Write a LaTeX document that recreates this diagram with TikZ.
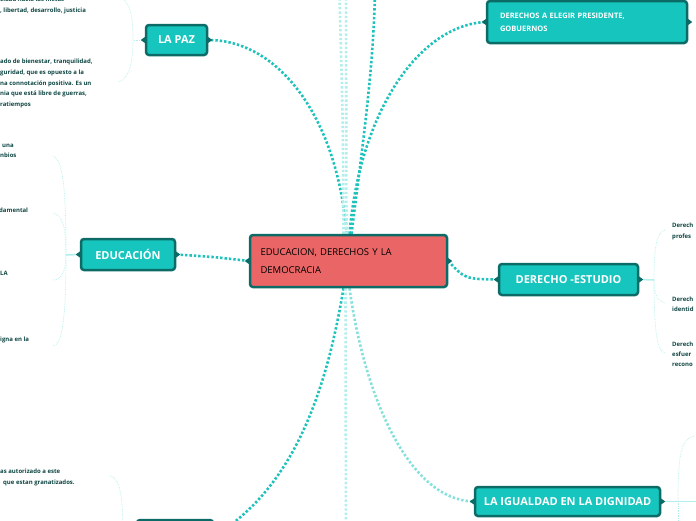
\documentclass[tikz,border=0pt]{standalone}
\usepackage{fontspec}
\setmainfont{Open Sans}
\usetikzlibrary{calc,backgrounds}

\definecolor{topicfill}{HTML}{16C5BE}
\definecolor{topicedge}{HTML}{0C6B66}
\definecolor{centrefill}{HTML}{E96566}
\definecolor{linkteal}{HTML}{1EC2BC}
\definecolor{linkmid}{HTML}{86E0DC}
\definecolor{linklight}{HTML}{B2EEEB}
\definecolor{leaftext}{HTML}{0E4643}

% little brace tips on both sides of a box
\newcommand{\sidetips}[1]{%
  \fill[topicedge] ($(#1.west)+(1.5,-4)$) -- ($(#1.west)+(-4,0)$) -- ($(#1.west)+(1.5,4)$) -- cycle;
  \fill[topicedge] ($(#1.east)+(-1.5,-4)$) -- ($(#1.east)+(4,0)$) -- ($(#1.east)+(-1.5,4)$) -- cycle;}

\begin{document}
\begin{tikzpicture}[x=1pt,y=-1pt,
  topic/.style={draw=topicedge, fill=topicfill, line width=2.5pt, rounded corners=3pt,
    text=white, inner sep=0pt, font=\bfseries\fontsize{11}{13}\selectfont},
  leaf/.style={anchor=west, align=left, inner sep=0pt, text=leaftext,
    font=\bfseries\fontsize{6}{10.7}\selectfont},
  link/.style={draw=linkteal, line width=2.6pt, dash pattern=on 2.4pt off 2pt},
  faint/.style={link, draw=linklight},
  twig/.style={draw=linklight, line width=0.7pt, densely dotted}]
\useasboundingbox (0,0) rectangle (696,520);
\clip (0,0) rectangle (696,520);

% main topics
\node[topic, fill=centrefill, text=black, minimum width=197pt, minimum height=52pt,
  text width=176pt, align=left, font=\fontsize{9.5}{18}\selectfont]
  (democracia) at (348.5,261) {EDUCACION, DERECHOS Y LA\\DEMOCRACIA};
\node[topic, minimum width=61pt, minimum height=30pt] (paz) at (176.5,40) {LA PAZ};
\node[topic, minimum width=94pt, minimum height=31pt] (educacion) at (128,254.5) {EDUCACIÓN};
\node[topic, minimum width=200pt, minimum height=42pt, text width=174pt, align=left,
  font=\bfseries\fontsize{7.5}{13}\selectfont]
  (elegir) at (587,22) {DERECHOS A ELEGIR PRESIDENTE,\\GOBUERNOS};
\node[topic, minimum width=139pt, minimum height=31pt] (estudio) at (568.5,279.5) {DERECHO -ESTUDIO};
\node[topic, minimum width=185pt, minimum height=29pt] (igualdad) at (567.5,501.5) {LA IGUALDAD EN LA DIGNIDAD};
\node[topic, minimum width=76pt, minimum height=32pt] (abajo) at (175,536) {};

\foreach \n in {democracia,paz,educacion,elegir,estudio,igualdad}
  \sidetips{\n};

% leaves
\node[leaf] (paz1) at (0,5.5) {cidad hacia las metas\\, libertad, desarrollo, justicia};
\node[leaf] (paz2) at (0,83.5) {ado de bienestar, tranquilidad,\\guridad, que es opuesto a la\\na connotación positiva. Es un\\nia que está libre de guerras,\\ratiempos};
\node[leaf] (edu1) at (0,151) {\hspace{2pt}una\\nbios};
\node[leaf] (edu2) at (-1,210) {damental};
\node[leaf] (edu3) at (0,273) {LA};
\node[leaf] (edu4) at (0,340) {igna en la};
\node[leaf, font=\bfseries\fontsize{6}{10.5}\selectfont] (est1) at (672,231.5) {Derech\\profes};
\node[leaf, font=\bfseries\fontsize{6}{10.5}\selectfont] (est2) at (672,304) {Derech\\identid};
\node[leaf, font=\bfseries\fontsize{6}{10}\selectfont] (est3) at (672,354) {Derech\\esfuer\\recono};
\node[leaf] (baj1) at (0,477.5) {as autorizado a este\\\hspace{3pt}que estan granatizados.};

% junctions and free ends
\coordinate (pazj) at (133,40);
\coordinate (eduj) at (66,255);
\coordinate (estj) at (654,280);
\coordinate (iguj) at (678,501);
\coordinate (arriba1) at (339,-20);
\coordinate (arriba2) at (346,-20);
\coordinate (arriba3) at (375,-20);
\coordinate (abajo2) at (346,540);

\begin{scope}[on background layer]
\draw[link] ($(democracia.north)+(-2,0)$) .. controls (338,120) and (280,40) .. (paz.east);
\draw[link] ($(democracia.north)+(1,0)$) .. controls (360,110) and (420,25) .. (elegir.west);
\draw[link] ($(democracia.north)+(3,0)$) .. controls (362,150) and (375,60) .. (arriba3);
\draw[faint] ($(democracia.north)+(-5,0)$) .. controls (343,120) .. (arriba1);
\draw[faint] ($(democracia.north)+(-2,0)$) -- (arriba2);
\draw[link] (democracia.west) .. controls (215,257) .. (educacion.east);
\draw[link] (democracia.east) .. controls (465,279) .. (estudio.west);
\draw[link] ($(democracia.south)+(-5,0)$) .. controls (325,400) and (290,490) .. (abajo.east);
\draw[faint] ($(democracia.south)+(-3,0)$) -- (abajo2);
\draw[link, draw=linkmid] ($(democracia.south)+(1,0)$) .. controls (365,400) and (410,500) .. (igualdad.west);

% branches to the leaves
\draw[twig] (paz.west) -- (pazj);
\draw[twig] (pazj) .. controls (133,15) and (130,4) .. (122,-2);
\draw[twig] (pazj) .. controls (133,65) and (128,80) .. (118,82);
\draw[draw=linklight, line width=1.5pt] (educacion.west) -- (eduj);
\draw[twig] (eduj) .. controls (66,180) and (62,160) .. (53,156);
\draw[twig] (eduj) .. controls (66,225) and (62,215) .. (53,213);
\draw[twig] (eduj) .. controls (66,270) and (62,280) .. (53,280);
\draw[twig] (eduj) .. controls (66,320) and (62,345) .. (53,346);
\draw[draw=linklight, line width=1.5pt] (estudio.east) -- (estj);
\draw[twig] (estj) .. controls (654,245) and (657,232) .. (665,230);
\draw[twig] (estj) .. controls (654,295) and (658,302) .. (665,303);
\draw[twig] (estj) .. controls (654,330) and (657,352) .. (665,353);
\draw[draw=linklight, line width=1.5pt] (igualdad.east) -- ++(40,0);
\draw[twig] (iguj) .. controls (678,450) and (682,438) .. (695,436);
\draw[twig] (iguj) -- ++(0,25);
\draw[twig] (110,476) .. controls (120,478) and (122,495) .. (123,525);
\end{scope}
\end{tikzpicture}
\end{document}
